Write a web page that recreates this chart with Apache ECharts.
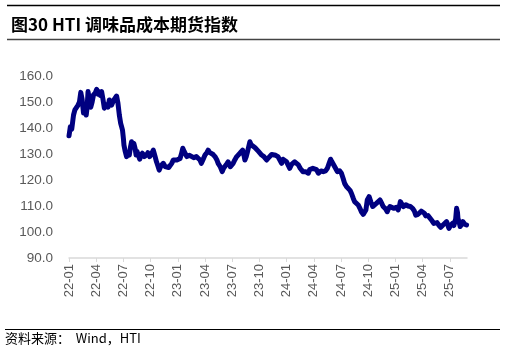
<!DOCTYPE html>
<html>
<head>
<meta charset="utf-8">
<script src="https://cdn.jsdelivr.net/npm/echarts@6/dist/echarts.min.js"></script>
<style>
  html, body { margin: 0; padding: 0; background: #fff; }
  #chart { width: 506px; height: 353px; }
</style>
</head>
<body>
<div id="chart"></div>
<script>
// months since 2022-01 (x) and index level (y)
const xMonths = [
  0.0, 0.15, 0.3, 0.5, 0.65, 0.8, 1.0, 1.15, 1.3, 1.45, 1.6, 1.75, 1.9, 2.0, 2.1, 2.25, 2.4, 2.55, 2.7, 2.9,
  3.05, 3.2, 3.3, 3.45, 3.6, 3.75, 3.9, 4.05, 4.15, 4.3, 4.45, 4.6, 4.7, 4.9, 5.1, 5.25, 5.4, 5.55, 5.7, 5.8,
  5.9, 6.0, 6.06, 6.2, 6.35, 6.5, 6.65, 6.8, 6.9, 7.05, 7.15, 7.3, 7.4, 7.5, 7.6, 7.8, 7.95, 8.1, 8.3, 8.55,
  8.7, 8.9, 9.1, 9.3, 9.5, 9.65, 9.8, 9.95, 10.15, 10.4, 10.6, 10.8, 11.0, 11.2, 11.35, 11.5, 11.7, 11.9, 12.1, 12.25,
  12.4, 12.55, 12.7, 12.8, 13.0, 13.15, 13.3, 13.5, 13.75, 14.05, 14.25, 14.45, 14.6, 14.8, 15.0, 15.2, 15.35, 15.5, 15.7, 15.9,
  16.1, 16.3, 16.45, 16.7, 16.9, 17.05, 17.2, 17.4, 17.55, 17.7, 17.8, 17.95, 18.1, 18.3, 18.5, 18.7, 18.85, 19.0, 19.15, 19.3,
  19.4, 19.55, 19.65, 19.8, 19.95, 20.1, 20.3, 20.5, 20.7, 20.9, 21.05, 21.25, 21.5, 21.8, 22.0, 22.15, 22.35, 22.5, 22.8, 23.05,
  23.2, 23.45, 23.6, 23.8, 24.0, 24.2, 24.35, 24.55, 24.7, 24.9, 25.1, 25.3, 25.5, 25.8, 26.1, 26.4, 26.55, 26.75, 26.9, 27.1,
  27.3, 27.5, 27.8, 28.05, 28.3, 28.5, 28.7, 28.85, 29.0, 29.15, 29.4, 29.6, 29.85, 30.05, 30.25, 30.4, 30.6, 30.8, 31.0, 31.15,
  31.35, 31.5, 31.7, 31.9, 32.1, 32.25, 32.45, 32.6, 32.75, 32.9, 33.1, 33.3, 33.5, 33.7, 33.9, 34.1, 34.3, 34.5, 34.65, 34.9,
  35.1, 35.25, 35.4, 35.6, 35.8, 36.1, 36.3, 36.45, 36.55, 36.7, 36.9, 37.15, 37.4, 37.65, 37.9, 38.1, 38.25, 38.5, 38.7, 38.85,
  39.0, 39.2, 39.35, 39.6, 39.8, 40.0, 40.25, 40.45, 40.6, 40.8, 41.0, 41.15, 41.25, 41.45, 41.65, 41.8, 41.9, 42.1, 42.3, 42.45,
  42.55, 42.65, 42.75, 42.85, 42.9, 43.05, 43.15, 43.3, 43.45, 43.65, 43.85
]
const indexValues = [
  137.0, 140.5, 139.5, 145, 147, 147.6, 148.8, 150, 153.7, 151, 145.8, 147, 145, 148, 154, 151, 148, 150, 152.7, 153.5,
  154.9, 153, 154, 152.5, 154, 151, 147.6, 149, 149.5, 148, 150.8, 150, 148.8, 150.5, 150, 152.3, 149.5, 145, 141.8, 140.5,
  139.2, 136, 133.5, 131, 129, 130.5, 129.6, 133, 134.7, 133, 134.1, 132, 129.6, 131, 130.5, 128, 129.5, 130.3, 129, 129.6,
  130.5, 129, 130, 131.5, 129, 127, 125.5, 123.8, 125.5, 126.4, 125.2, 125.8, 124.8, 125.1, 126.5, 127.7, 127, 127.7, 127.2, 128.3,
  130, 132.2, 131, 130.9, 129, 128.3, 129.5, 129, 128.6, 129, 128.5, 127.7, 126.4, 128, 129.6, 130.5, 131.5, 130.6, 130.9, 129.8,
  129, 127.8, 126.4, 125, 123.2, 124.5, 125.1, 126.2, 127, 126, 125.1, 125.8, 126.4, 127.8, 129, 129.5, 130.3, 131, 131.5, 129.5,
  127.7, 129, 130.3, 132.5, 134.7, 133.5, 132.8, 132.5, 132.2, 131, 130.3, 129.6, 129, 127.7, 128.5, 129, 129.8, 130, 129.5, 129,
  128.5, 126.4, 128, 128.3, 127, 126.5, 124.5, 126, 126, 127, 126.3, 125.8, 124.5, 123.2, 123.2, 122.6, 124, 123.8, 124.5, 125.1,
  124, 122.6, 123.5, 123.2, 123.5, 124.5, 126.5, 128, 127, 126.4, 124.5, 123.2, 123.5, 122.6, 120.5, 118.7, 117.5, 116.8, 116, 114.9,
  113, 111.7, 111, 110.4, 109, 107.8, 106.8, 106.5, 108.5, 112.3, 113.6, 111.5, 109.8, 110.5, 111, 111.5, 112.3, 111, 109.8, 109,
  107.8, 109, 109.8, 109.3, 109.1, 109.5, 108.5, 110, 111.7, 110.8, 109.8, 110.5, 110, 109.8, 109.1, 108, 106.5, 106.8, 107.2, 108,
  108.5, 107.2, 106.2, 106.3, 105.9, 104.5, 103.3, 103.8, 103.6, 102.6, 101.8, 102.5, 102.7, 103.3, 104, 102.5, 101.4, 102.5, 103.3, 102.5,
  102.7, 105, 109.1, 107.5, 105.3, 103.5, 102.1, 103, 104, 103, 102.7
]
const xTickLabels = ['22-01', '22-04', '22-07', '22-10', '23-01', '23-04', '23-07', '23-10',
  '24-01', '24-04', '24-07', '24-10', '25-01', '25-04', '25-07']

const seriesData = xMonths.map((m, i) => [m, indexValues[i]])

const chart = echarts.init(document.getElementById('chart'), null, { renderer: 'canvas' })
chart.setOption({
  animation: false,
  title: {
    text: '图30 HTI 调味品成本期货指数',
    left: 6,
    top: 11,
    textStyle: { fontFamily: 'Noto Sans CJK SC', fontWeight: 'bold', fontSize: 17, color: '#000' }
  },
  graphic: [
    { type: 'line', shape: { x1: 7, y1: 5.5, x2: 500, y2: 5.5 }, style: { stroke: '#000', lineWidth: 1.5 } },
    { type: 'line', shape: { x1: 7, y1: 39.5, x2: 500, y2: 39.5 }, style: { stroke: '#444', lineWidth: 1.5 } },
    { type: 'line', shape: { x1: 5, y1: 329.5, x2: 500, y2: 329.5 }, style: { stroke: '#000', lineWidth: 1.2 } },
    {
      type: 'text', left: 5, top: 332,
      style: { text: '资料来源：  Wind，HTI', font: '13px "Noto Sans CJK SC"', fill: '#000' }
    }
  ],
  grid: { left: 69, right: 39, top: 76, bottom: 95 },
  xAxis: {
    type: 'value',
    min: 0,
    max: 43.9,
    interval: 3,
    axisLine: { lineStyle: { color: '#d9d9d9', width: 1.5 } },
    axisTick: { show: true, length: 4, lineStyle: { color: '#d9d9d9' } },
    splitLine: { show: false },
    axisLabel: {
      rotate: 90,
      color: '#595959',
      fontFamily: 'Liberation Sans',
      fontSize: 13,
      margin: 6,
      showMaxLabel: false,
      formatter: (v) => xTickLabels[Math.round(v / 3)] || ''
    }
  },
  yAxis: {
    type: 'value',
    min: 90,
    max: 160,
    interval: 10,
    axisLine: { show: false },
    axisTick: { show: false },
    splitLine: { show: false },
    axisLabel: {
      color: '#595959',
      fontFamily: 'Liberation Sans',
      fontSize: 13.5,
      margin: 16,
      formatter: (v) => v.toFixed(1)
    }
  },
  series: [{
    type: 'line',
    data: seriesData,
    showSymbol: false,
    symbol: 'none',
    smooth: false,
    lineStyle: { color: '#000080', width: 5, join: 'round', cap: 'round' }
  }]
})
</script>
</body>
</html>
